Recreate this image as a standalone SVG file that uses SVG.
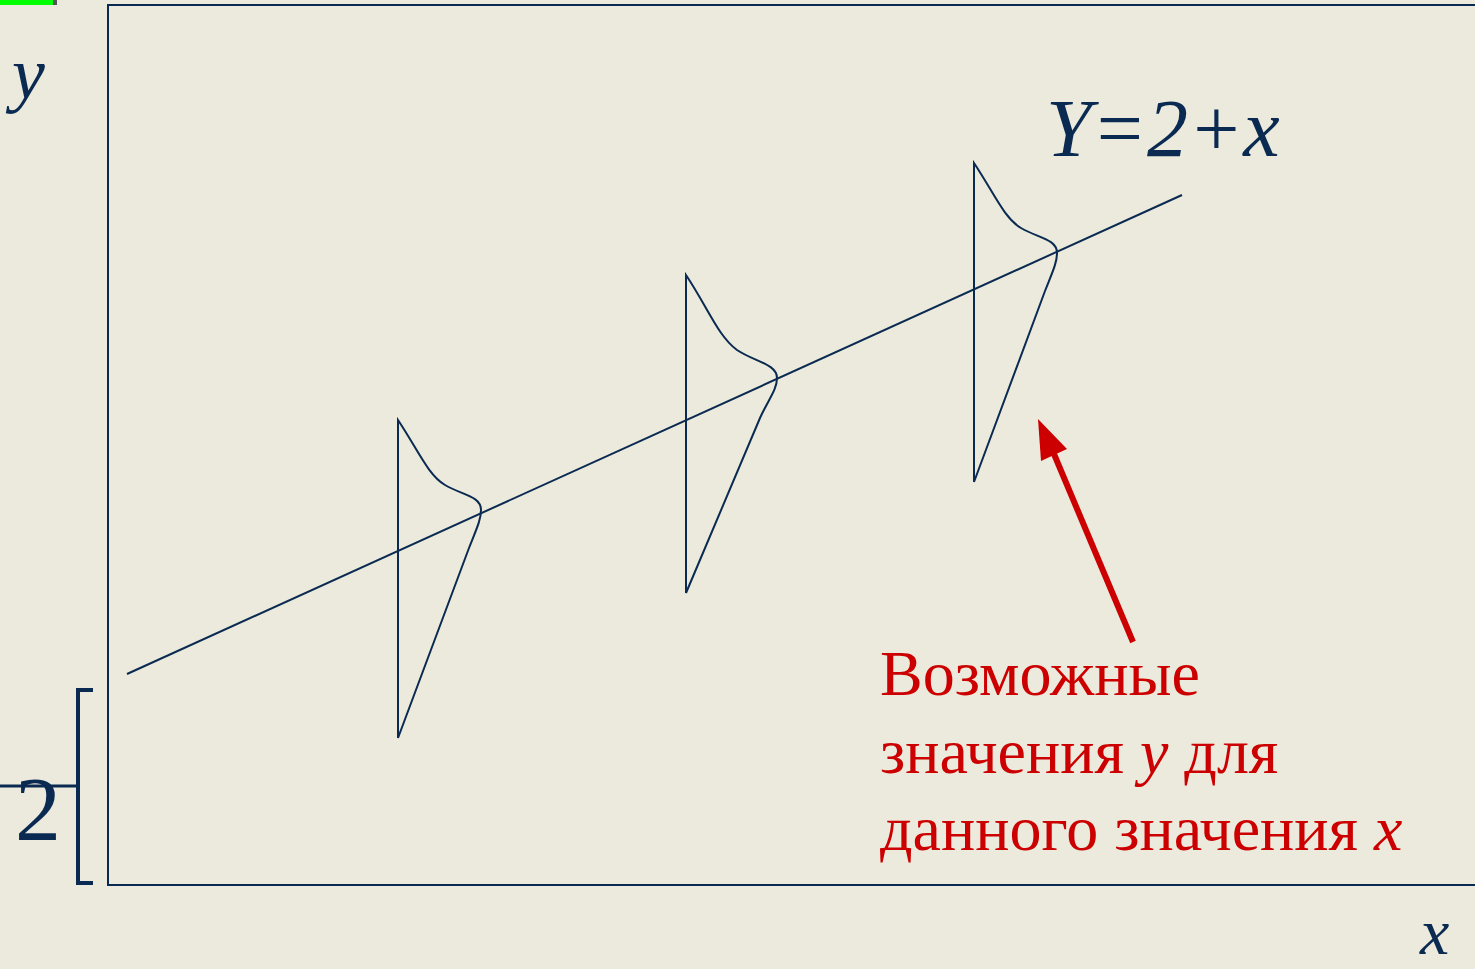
<svg xmlns="http://www.w3.org/2000/svg" width="1475" height="969" viewBox="0 0 1475 969">
<defs>
<style>
.ink{stroke:#0a2a52;fill:none;stroke-width:2}
.math{font-family:"Liberation Serif",serif;font-style:italic;fill:#0a2a52}
.red{font-family:"Liberation Serif",serif;fill:#cc0000;font-size:64px}
</style>
</defs>
<rect width="1475" height="969" fill="#ebeadc"/>
<rect x="0" y="0" width="53" height="5" fill="#00ff00"/>
<rect x="53" y="0" width="4" height="5" fill="#555"/>
<g id="frame">
<path class="ink" d="M1475,5 H108 V885 H1475"/>
</g>
<g id="axis-labels">
<text class="math" x="12" y="98" font-size="74">y</text>
<text class="math" x="1420" y="954" font-size="66">x</text>
<text x="15" y="840" font-family="Liberation Serif,serif" font-size="92" fill="#0a2a52">2</text>
<path d="M93,690 H78 V883 H93" fill="none" stroke="#0a2a52" stroke-width="4"/>
<path d="M0,786 H80" stroke="#0a2a52" stroke-width="3"/>
</g>
<g id="regression-line">
<line class="ink" x1="127" y1="674" x2="1182" y2="195"/>
<text class="math" x="1046" y="156" font-size="82">Y=2+x</text>
</g>
<g id="dist1">
<path class="ink" d="M398,738 V420 C418,450 428,475 445,485 C462,495 481,496 481,510 C481,520 476,530 469,548 L398,738"/>
</g>
<g id="dist2">
<path class="ink" d="M686,593 V275 C708,308 718,336 737,350 C755,362 777,364 777,378 C777,390 768,400 760,418 L686,593"/>
</g>
<g id="dist3">
<path class="ink" d="M974,482 V163 C994,193 1004,218 1021,228 C1038,238 1057,239 1057,253 C1057,263 1052,273 1045,291 L974,482"/>
</g>
<g id="connectors">
<line x1="1133" y1="642" x2="1054" y2="454" stroke="#cc0000" stroke-width="6"/>
<polygon points="1038,419 1041,461 1067,449" fill="#cc0000"/>
</g>
<g id="label">
<text class="red" x="880" y="695">Возможные</text>
<text class="red" x="880" y="773">значения <tspan font-style="italic">y</tspan> для</text>
<text class="red" x="880" y="850">данного значения <tspan font-style="italic">x</tspan></text>
</g>
</svg>
